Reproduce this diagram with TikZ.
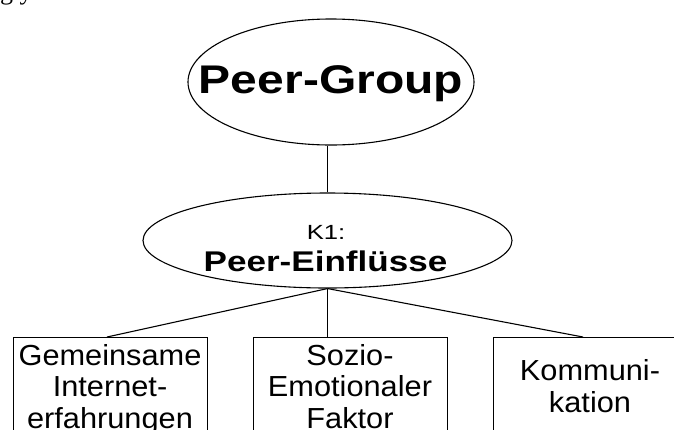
\documentclass[tikz,border=0pt]{standalone}
\usepackage{fontspec}
\setmainfont{Liberation Sans}
\newfontfamily\fragfont{Liberation Serif}
\usetikzlibrary{shapes.geometric}
\begin{document}
\begin{tikzpicture}[x=1pt,y=-1pt,
  oval/.style={draw, ellipse, inner sep=0pt, line width=1.1pt},
  boxnode/.style={draw, rectangle, inner sep=0pt, anchor=north west, line width=1.1pt, minimum width=194pt, minimum height=130pt},
  lbl/.style={anchor=base, inner sep=0pt},
  boxtext/.style={lbl, font=\fontsize{29}{32}\selectfont},
  link/.style={draw, line width=1.1pt}]
\useasboundingbox (0,0) rectangle (674,429);
\clip (0,0) rectangle (674,429);
% fragment of text above the picture
\node[anchor=base west, inner sep=0pt] (frag) at (0,-0.5) {\fragfont\fontsize{26}{30}\selectfont g y};
% Peer-Group
\node[oval, minimum width=286pt, minimum height=126pt] (pg) at (331,82) {};
\node[lbl] (pgt) at (331,93) {\fontsize{40}{48}\selectfont\bfseries\scalebox{1.2}[1]{Peer-Group}};
% K1
\node[oval, minimum width=369pt, minimum height=95pt] (k1) at (327.5,240.5) {};
\node[lbl] (k1a) at (326,239.8) {\fontsize{20.5}{24}\selectfont\scalebox{1.25}[1]{K1:}};
\node[lbl] (k1b) at (325.5,271.7) {\fontsize{28.5}{32}\selectfont\bfseries\scalebox{1.23}[1]{Peer-Einflüsse}};
% boxes
\node[boxnode] (b1) at (13,337) {};
\node[boxnode] (b2) at (253,337) {};
\node[boxnode] (b3) at (493,337) {};
\node[boxtext] (b1l1) at (110,365) {\scalebox{1.06}[1]{Gemeinsame}};
\node[boxtext] (b1l2) at (110,396.7) {\scalebox{1.06}[1]{Internet-}};
\node[boxtext] (b1l3) at (110,428.4) {\scalebox{1.06}[1]{erfahrungen}};
\node[boxtext] (b2l1) at (350,365) {\scalebox{1.06}[1]{Sozio-}};
\node[boxtext] (b2l2) at (350,396.7) {\scalebox{1.06}[1]{Emotionaler}};
\node[boxtext] (b2l3) at (350,428.4) {\scalebox{1.06}[1]{Faktor}};
\node[boxtext] (b3l1) at (590,380) {\scalebox{1.06}[1]{Kommuni-}};
\node[boxtext] (b3l2) at (590,412) {\scalebox{1.06}[1]{kation}};
% connectors
\coordinate (b1t) at (107,337);
\coordinate (b3t) at (583,337);
\draw[link] (k1.north) -- (k1.north |- pg.south);
\draw[link] (k1.south) -- (b1t);
\draw[link] (k1.south) -- (k1.south |- b2.north);
\draw[link] (k1.south) -- (b3t);
\end{tikzpicture}
\end{document}
